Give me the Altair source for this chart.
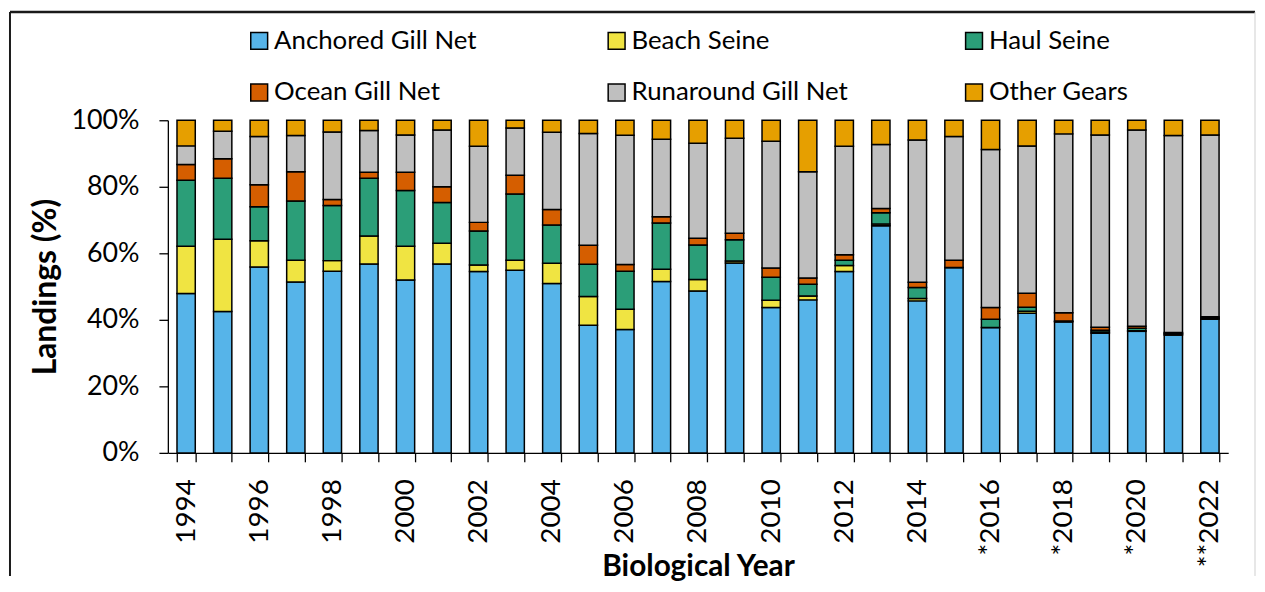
import altair as alt
import pandas as pd
import json

years = list(range(1994, 2023))
year_marks = {2016: "*", 2018: "*", 2020: "*", 2022: "**"}
year_labels = [year_marks.get(y, "") + str(y) for y in years]
shown_labels = [lab for y, lab in zip(years, year_labels) if y % 2 == 0]

gears = ["Anchored Gill Net", "Beach Seine", "Haul Seine",
         "Ocean Gill Net", "Runaround Gill Net", "Other Gears"]
colors = ["#56B4E9", "#F0E442", "#2B9E78", "#D55E00", "#BFBFBF", "#E69F00"]

anchored = [47.9, 42.5, 55.9, 51.4, 54.6, 56.8, 52.0, 56.8, 54.5, 54.9, 50.9, 38.4, 37.1, 51.5, 48.7,
            57.1, 43.7, 46.0, 54.5, 68.3, 45.7, 55.7, 37.7, 41.9, 39.5, 35.9, 36.5, 35.4, 40.2]
beach = [14.2, 21.7, 7.9, 6.5, 3.2, 8.4, 10.1, 6.2, 2.0, 3.0, 6.1, 8.6, 6.1, 3.7, 3.4,
         0.6, 2.2, 1.2, 1.8, 0.5, 0.7, 0.0, 0.0, 0.6, 0.0, 0.4, 0.2, 0.3, 0.2]
haul = [19.9, 18.4, 10.2, 17.8, 16.6, 17.4, 16.8, 12.3, 10.2, 19.9, 11.5, 9.7, 11.4, 13.9, 10.4,
        6.4, 6.9, 3.5, 1.6, 3.4, 3.3, 0.0, 2.5, 1.2, 0.2, 0.5, 0.7, 0.2, 0.2]
ocean = [4.7, 5.8, 6.6, 8.8, 1.8, 1.8, 5.5, 4.7, 2.6, 5.7, 4.7, 5.7, 2.0, 1.9, 2.0,
         1.9, 2.8, 1.9, 1.7, 1.3, 1.6, 2.2, 3.5, 4.2, 2.5, 0.9, 0.6, 0.3, 0.3]
runaround = [5.6, 8.3, 14.5, 10.9, 20.3, 12.5, 11.2, 17.1, 22.9, 14.2, 23.2, 33.6, 38.9, 23.3, 28.6,
             28.6, 38.1, 31.9, 32.6, 19.2, 42.8, 37.2, 47.5, 44.2, 53.9, 57.7, 59.0, 59.2, 54.7]
other = [7.7, 3.3, 4.9, 4.6, 3.5, 3.1, 4.4, 2.9, 7.8, 2.3, 3.6, 4.0, 4.5, 5.7, 6.9,
         5.4, 6.3, 15.5, 7.8, 7.3, 5.9, 4.9, 8.8, 7.7, 4.1, 4.4, 2.9, 4.6, 4.4]

series = [anchored, beach, haul, ocean, runaround, other]
rows = []
for gi, (g, vals) in enumerate(zip(gears, series)):
    for lab, v in zip(year_labels, vals):
        rows.append({"yr": lab, "gear": g, "rank": gi, "pct": v})
df = pd.DataFrame(rows)

FONT = "Lato"
W, H = 1068, 335

label_expr = "indexof(" + json.dumps(shown_labels) + ", datum.value) >= 0 ? datum.value : ''"

bars = alt.Chart(df).mark_bar(stroke="black", strokeWidth=1.5).encode(
    x=alt.X("yr:N", sort=year_labels,
            scale=alt.Scale(paddingInner=0.5, paddingOuter=0.25),
            axis=alt.Axis(title="Biological Year", labelAngle=270, labelAlign="right",
                          labelBaseline="middle", labelOverlap=False,
                          labelExpr=label_expr,
                          tickBand="extent", tickSize=9, tickColor="black", tickWidth=1.3,
                          domainColor="black", domainWidth=1.3,
                          labelPadding=17, labelFontSize=28, labelFont=FONT, labelColor="black",
                          titleFontSize=30, titleFont=FONT, titleFontWeight="bold", titleColor="black",
                          titleY=124, titleBaseline="alphabetic")),
    y=alt.Y("pct:Q", stack="normalize",
            scale=alt.Scale(domain=[0, 1], nice=False),
            axis=alt.Axis(title="Landings (%)", format="%", values=[0, 0.2, 0.4, 0.6, 0.8, 1.0],
                          grid=False, tickSize=9, tickColor="black", tickWidth=1.3,
                          domainColor="black", domainWidth=1.3,
                          labelPadding=20, labelFontSize=27, labelFont=FONT, labelColor="black",
                          titlePadding=9, titleFontSize=32, titleFont=FONT, titleFontWeight="bold",
                          titleColor="black")),
    color=alt.Color("gear:N", scale=alt.Scale(domain=gears, range=colors),
                    legend=alt.Legend(title=None, orient="none", legendX=79, legendY=-93,
                                      direction="horizontal", columns=3, gridAlign="all",
                                      columnPadding=113, rowPadding=26,
                                      symbolType="square", symbolSize=289,
                                      symbolStrokeColor="black", symbolStrokeWidth=1.5,
                                      labelFontSize=26, labelFont=FONT, labelColor="black",
                                      labelOffset=2, labelLimit=400)),
    order=alt.Order("rank:Q", sort="ascending"),
)

frame_src = alt.Data(values=[{"edge": "frame"}])
top_line = alt.Chart(frame_src).mark_rule(color="#1a1a1a", strokeWidth=2.5).encode(
    x=alt.value(-159), x2=alt.value(1095), y=alt.value(-109))
left_line = alt.Chart(frame_src).mark_rule(color="#1a1a1a", strokeWidth=2).encode(
    x=alt.value(-159), y=alt.value(-109), y2=alt.value(459))
right_line = alt.Chart(frame_src).mark_rule(color="#cfcfcf", strokeWidth=1).encode(
    x=alt.value(1095), y=alt.value(-109), y2=alt.value(459))

chart = alt.layer(bars, top_line, left_line, right_line).properties(
    width=W, height=H, padding={"left": 0, "top": 0, "right": 0, "bottom": 0}
).configure(font=FONT).configure_view(stroke=None)

chart.save("out.html", embed_options={"renderer": "svg", "actions": False})
